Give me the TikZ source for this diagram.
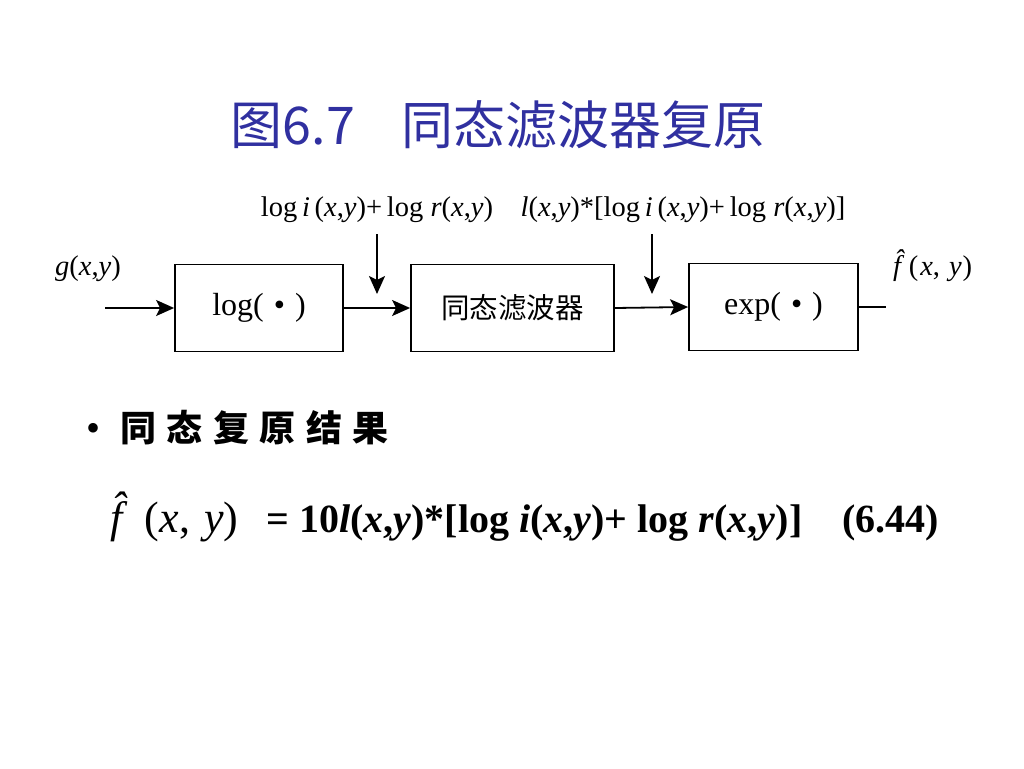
\documentclass[tikz,border=0pt]{standalone}
\usepackage{fontspec}
\setmainfont{Liberation Serif}
\newfontfamily\cjk{Noto Sans CJK SC}
\usetikzlibrary{arrows.meta}
\definecolor{titleblue}{RGB}{48,48,160}
\begin{document}
\begin{tikzpicture}[x=1pt,y=-1pt,
  blk/.style={draw,line width=1.8pt,minimum height=87pt,inner sep=0pt,font=\fontsize{32}{36}\selectfont},
  conn/.style={line width=1.8pt,-{Stealth[length=18pt,width=16pt,inset=4pt]}},
  plain/.style={line width=1.8pt},
  lab/.style={inner sep=0pt,font=\fontsize{28.5}{32}\selectfont}]
\useasboundingbox (0,0) rectangle (1024,768);
% title
\node[inner sep=0pt,text=titleblue,font=\cjk\fontsize{52}{56}\selectfont] (title) at (498,125) {图6.7\hspace{46pt}同态滤波器复原};
% boxes
\node[blk,minimum width=168pt] (b1) at (259,308) {log(\hspace{10pt}•\hspace{10pt})};
\node[blk,minimum width=203pt,font=\cjk\fontsize{28.5}{32}\selectfont] (b2) at (512.5,308) {同态滤波器};
\node[blk,minimum width=169pt] (b3) at (773.5,307) {exp(\hspace{10pt}•\hspace{10pt})};
% coordinates
\coordinate (in) at (105,308);
\coordinate (out) at (886,307);
\coordinate (d1s) at (377,234);
\coordinate (d1e) at (377,294);
\coordinate (d2s) at (652,234);
\coordinate (d2e) at (652,294);
% connectors
\draw[conn] (in) -- (b1.west);
\draw[conn] (b1.east) -- (b2.west);
\draw[conn] (b2.east) -- (b3.west);
\draw[plain] (b3.east) -- (out);
\draw[conn] (d1s) -- (d1e);
\draw[conn] (d2s) -- (d2e);
% labels
\node[lab] (l1) at (377,210) {log\,\textit{i}\,(\textit{x},\textit{y})+\,log \textit{r}(\textit{x},\textit{y})};
\node[lab] (l2) at (683,210) {\textit{l}(\textit{x},\textit{y})*[log\,\textit{i}\,(\textit{x},\textit{y})+\,log \textit{r}(\textit{x},\textit{y})]};
\node[lab] (g) at (88,269) {\textit{g}(\textit{x},\textit{y})};
\node[lab,anchor=west] (fh) at (893,266) {\textit{f̂}\hspace{-3pt}(\hspace{2pt}\textit{x},\hspace{9pt}\textit{y}\hspace{1pt})};
% bullet
\node[inner sep=0pt,anchor=west,font=\fontsize{40}{44}\selectfont] (bul) at (86,428) {•\hspace{20pt}{\cjk\fontsize{36}{40}\selectfont\bfseries 同\hspace{10.5pt}态\hspace{10.5pt}复\hspace{10.5pt}原\hspace{10.5pt}结\hspace{10.5pt}果}};
% equation
\node[inner sep=0pt,anchor=base west,font=\fontsize{44}{48}\selectfont] (eq) at (110,532) {\textit{f̂}\hspace{6pt}(\textit{x},\hspace{14pt}\textit{y})\hspace{28pt}{\fontsize{40}{44}\selectfont\textbf{= 10\textit{l}(\textit{x},\textit{y})*[log \textit{i}(\textit{x},\textit{y})+ log \textit{r}(\textit{x},\textit{y})]\hspace{40pt}(6.44)}}};
\end{tikzpicture}
\end{document}
